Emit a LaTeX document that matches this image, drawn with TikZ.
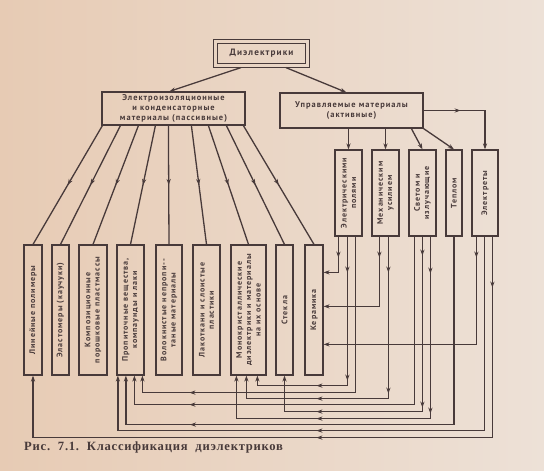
\documentclass[tikz,border=0pt]{standalone}
\usepackage{fontspec}
\setmainfont{PT Sans}
\newfontfamily\bxfont{PT Sans}[LetterSpace=12]
\newfontfamily\capfont{Liberation Serif}[LetterSpace=6]
\usetikzlibrary{calc,arrows.meta,decorations.markings}
\definecolor{bg}{RGB}{236,221,207}
\definecolor{bgl}{RGB}{231,203,180}
\definecolor{bgr}{RGB}{237,225,215}
\definecolor{ink}{RGB}{72,58,58}
\begin{document}
\begin{tikzpicture}[x=1pt,y=-1pt,
  >={Stealth[length=6pt,width=4.2pt]},
  wire/.style={draw=ink, line width=1.3pt},
  ma/.style={postaction={decorate,decoration={markings,mark=at position #1 with {\arrow{Stealth[length=6pt,width=4.2pt]}}}}},
  box/.style={draw=ink, line width=1.2pt, inner sep=0pt},
  ht/.style={font=\bxfont\bfseries\fontsize{8.4}{10.4}\selectfont, align=center, text=ink},
  vt/.style={rotate=90, font=\bxfont\bfseries\fontsize{8}{9.4}\selectfont, align=center, text=ink, inner sep=0pt},
]
\shade[left color=bgl, right color=bgr] (0,0) rectangle (544,471);
\useasboundingbox (0,0) rectangle (544,471);

% top level
\node[box, minimum width=88pt, minimum height=20pt, ht, font=\bxfont\bfseries\fontsize{9.2}{11}\selectfont] (die) at (261.5,53.5) {Диэлектрики};
\draw[ink, line width=1.2pt] ($(die.north west)+(-3.5,-3.5)$) rectangle ($(die.south east)+(3.5,3.5)$);
\node[box, minimum width=143pt, minimum height=33pt, ht] (pas) at (173.5,108.5) {Электроизоляционные\\и конденсаторные\\материалы (пассивные)};
\node[box, minimum width=143pt, minimum height=35pt, ht] (act) at (351.5,110.5) {Управляемые материалы\\(активные)};

% passive children
\node[box, minimum width=18pt, minimum height=130pt] (b1) at (33,310) {};
\node[box, minimum width=17pt, minimum height=130pt] (b2) at (60.5,310) {};
\node[box, minimum width=28pt, minimum height=130pt] (b3) at (93,310) {};
\node[box, minimum width=27pt, minimum height=130pt] (b4) at (130.5,310) {};
\node[box, minimum width=26pt, minimum height=130pt] (b5) at (169,310) {};
\node[box, minimum width=27pt, minimum height=130pt] (b6) at (206.5,310) {};
\node[box, minimum width=35pt, minimum height=130pt] (b7) at (248.5,310) {};
\node[box, minimum width=17pt, minimum height=130pt] (b8) at (284.5,310) {};
\node[box, minimum width=18pt, minimum height=130pt] (b9) at (314,310) {};
\node[vt] (b1t) at (b1) {Линейные полимеры};
\node[vt] (b2t) at (b2) {Эластомеры (каучуки)};
\node[vt] (b3t) at (b3) {Композиционные\\порошковые пластмассы};
\node[vt] (b4t) at (b4) {Пропиточные вещества,\\компаунды и лаки};
\node[vt] (b5t) at (b5) {Волокнистые непропи\,--\\таные материалы};
\node[vt] (b6t) at (b6) {Лакоткани и слоистые\\пластики};
\node[vt] (b7t) at (b7) {Монокристаллические\\диэлектрики и материалы\\на их основе};
\node[vt] (b8t) at (b8) {Стекла};
\node[vt] (b9t) at (b9) {Керамика};

% active children
\node[box, minimum width=27pt, minimum height=86pt] (ep) at (348.5,193) {};
\node[box, minimum width=27pt, minimum height=86pt] (mu) at (385.5,193) {};
\node[box, minimum width=27pt, minimum height=86pt] (si) at (422.5,193) {};
\node[box, minimum width=16pt, minimum height=86pt] (tp) at (454,193) {};
\node[box, minimum width=26pt, minimum height=86pt] (el) at (485,193) {};
\node[vt] (ept) at (ep) {Электрическими\\полями};
\node[vt] (mut) at (mu) {Механическим\\усилием};
\node[vt] (sit) at (si) {Светом и\\излучающие};
\node[vt] (tpt) at (tp) {Теплом};
\node[vt] (elt) at (el) {Электреты};

% caption
\node[anchor=west, text=ink, font=\capfont\bfseries\fontsize{12.6}{14}\selectfont, inner sep=0pt] (cap) at (24,447) {Рис.~~7.1.~~Классификация~~диэлектриков};

% top connectors
\draw[wire,->] ($(die.south west)+(24,3.5)$) -- ($(pas.north west)+(68,0)$);
\draw[wire,->] ($(die.south west)+(69,3.5)$) -- ($(act.north west)+(67,0)$);

% active -> children
\draw[wire,->] (ep.north |- act.south) -- (ep.north);
\draw[wire,->] (mu.north |- act.south) -- (mu.north);
\draw[wire,->] ($(act.south west)+(132,0)$) -- (si.north);
\draw[wire,->] (act.south east) -- (tp.north);
\draw[wire,->,ma=37pt] (act.east) -| (el.north);

% passive fan
\foreach \n/\dx in {b1/1, b2/19, b3/37, b4/54, b5/67, b6/90, b7/107, b8/125, b9/142}
  \draw[wire,ma=0.5] ($(pas.south west)+(\dx,0)$) -- (\n.north);

% into ceramics
\draw[wire,->,ma=21pt] ($(ep.south west)+(4,0)$) |- ($(b9.north east)+(0,28)$);
\draw[wire,->,ma=21pt] ($(mu.south west)+(8,0)$) |- ($(b9.north east)+(0,62)$);
\draw[wire,->,ma=21pt] ($(el.south west)+(5,0)$) |- ($(b9.north east)+(0,100)$);

% bottom bus
\draw[wire,->,ma=36pt,ma=144pt,ma=180pt] ($(ep.south west)+(13,0)$) -- ++(0,149) -| ($(b7.south west)+(27,0)$);
\draw[wire,->,ma=322pt] ($(ep.south west)+(21,0)$) -- ++(0,156) -| ($(b4.south west)+(26,0)$);
\draw[wire,->,ma=36pt,ma=157pt,ma=234pt] ($(mu.south west)+(17,0)$) -- ++(0,162) -| ($(b7.south west)+(16,0)$);
\draw[wire,->,ma=393pt] ($(si.south west)+(6,0)$) -- ++(0,168) -| ($(b4.south west)+(18,0)$);
\draw[wire,->,ma=19pt,ma=171pt,ma=281pt] ($(si.south west)+(14,0)$) -- ++(0,175) -| (b8.south);
\draw[wire,->,ma=37pt,ma=177pt,ma=296pt] ($(si.south west)+(22,0)$) -- ++(0,182) -| ($(b7.south west)+(6,0)$);
\draw[wire,->,ma=452pt] (tp.south) -- ++(0,188) -| ($(b4.south west)+(9.5,0)$);
\draw[wire,->,ma=362pt] ($(el.south west)+(13,0)$) -- ++(0,194) -| ($(b4.south west)+(1.5,0)$);
\draw[wire,->,ma=51pt,ma=377pt] ($(el.south west)+(21,0)$) -- ++(0,201) -| (b1.south);
\end{tikzpicture}
\end{document}
